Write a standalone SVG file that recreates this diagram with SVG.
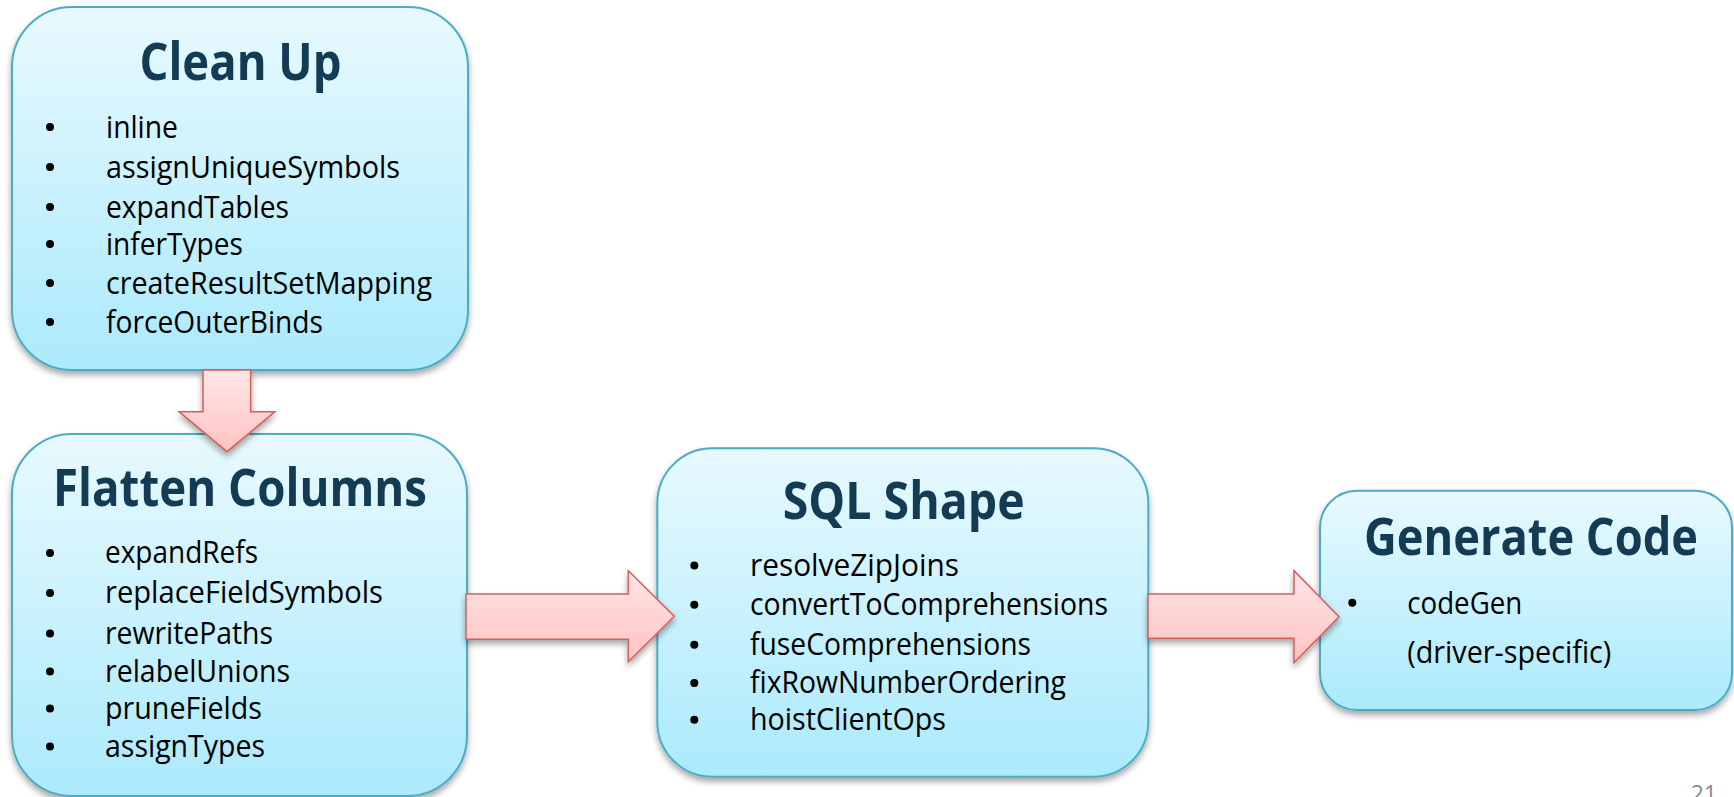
<svg xmlns="http://www.w3.org/2000/svg" width="1734" height="797" viewBox="0 0 1734 797">
<style>
.box{fill:url(#boxGrad);stroke:#4BACC6;stroke-width:2;filter:url(#shadow)}
.arrow{fill:url(#arrGrad);stroke:#D4605A;stroke-width:1.5;stroke-linejoin:miter;filter:url(#shadow)}
.title{font-family:"Open Sans","Liberation Sans",sans-serif;font-weight:700;font-size:52px;fill:#133B53}
.item{font-family:"Open Sans","Liberation Sans",sans-serif;font-size:31px;fill:#000}
.bullet{fill:#000}
.page{font-family:"Open Sans","Liberation Sans",sans-serif;font-size:23px;fill:#8C8C8C}
</style>
<defs>
<linearGradient id="boxGrad" x1="0" y1="0" x2="0" y2="1">
<stop offset="0" stop-color="#E8F9FE"/>
<stop offset="1" stop-color="#ABEAFC"/>
</linearGradient>
<linearGradient id="arrGrad" x1="0" y1="0" x2="0" y2="1">
<stop offset="0" stop-color="#FFE6E6"/>
<stop offset="1" stop-color="#FFC2C2"/>
</linearGradient>
<filter id="shadow" x="-10%" y="-10%" width="120%" height="130%">
<feDropShadow dx="0" dy="4" stdDeviation="3" flood-color="#000" flood-opacity="0.35"/>
</filter>
</defs>
<rect width="1734" height="797" fill="#fff"/>

<g id="node-cleanup">
<rect class="box" x="12" y="7" width="456" height="363" rx="60" ry="60"/>
<text class="title" x="139.5" y="80" textLength="202" lengthAdjust="spacingAndGlyphs">Clean Up</text>
<circle class="bullet" cx="50" cy="127" r="4"/>
<text class="item" x="106" y="137.5" textLength="72" lengthAdjust="spacingAndGlyphs">inline</text>
<circle class="bullet" cx="50" cy="167" r="4"/>
<text class="item" x="106" y="177.5" textLength="294" lengthAdjust="spacingAndGlyphs">assignUniqueSymbols</text>
<circle class="bullet" cx="50" cy="207" r="4"/>
<text class="item" x="106" y="217.5" textLength="183" lengthAdjust="spacingAndGlyphs">expandTables</text>
<circle class="bullet" cx="50" cy="244" r="4"/>
<text class="item" x="106" y="254.5" textLength="137" lengthAdjust="spacingAndGlyphs">inferTypes</text>
<circle class="bullet" cx="50" cy="283" r="4"/>
<text class="item" x="106" y="293.5" textLength="326" lengthAdjust="spacingAndGlyphs">createResultSetMapping</text>
<circle class="bullet" cx="50" cy="322" r="4"/>
<text class="item" x="106" y="332.5" textLength="217" lengthAdjust="spacingAndGlyphs">forceOuterBinds</text>
</g>

<g id="node-flatten">
<rect class="box" x="12" y="434" width="455" height="362" rx="60" ry="60"/>
<text class="title" x="53" y="505.7" textLength="374" lengthAdjust="spacingAndGlyphs">Flatten Columns</text>
<circle class="bullet" cx="50" cy="553" r="4"/>
<text class="item" x="105" y="563.3" textLength="153" lengthAdjust="spacingAndGlyphs">expandRefs</text>
<circle class="bullet" cx="50" cy="593" r="4"/>
<text class="item" x="105" y="603.3" textLength="278" lengthAdjust="spacingAndGlyphs">replaceFieldSymbols</text>
<circle class="bullet" cx="50" cy="633.5" r="4"/>
<text class="item" x="105" y="644" textLength="168" lengthAdjust="spacingAndGlyphs">rewritePaths</text>
<circle class="bullet" cx="50" cy="671.5" r="4"/>
<text class="item" x="105" y="681.7" textLength="185" lengthAdjust="spacingAndGlyphs">relabelUnions</text>
<circle class="bullet" cx="50" cy="708.5" r="4"/>
<text class="item" x="105" y="719" textLength="157" lengthAdjust="spacingAndGlyphs">pruneFields</text>
<circle class="bullet" cx="50" cy="746.5" r="4"/>
<text class="item" x="105" y="757" textLength="160" lengthAdjust="spacingAndGlyphs">assignTypes</text>
</g>

<g id="node-sqlshape">
<rect class="box" x="657.3" y="448.3" width="491" height="328.4" rx="55" ry="55"/>
<text class="title" x="782.7" y="519.3" textLength="242" lengthAdjust="spacingAndGlyphs">SQL Shape</text>
<circle class="bullet" cx="694.3" cy="565.5" r="4"/>
<text class="item" x="750" y="575.7" textLength="209" lengthAdjust="spacingAndGlyphs">resolveZipJoins</text>
<circle class="bullet" cx="694.3" cy="604.8" r="4"/>
<text class="item" x="750" y="615" textLength="358" lengthAdjust="spacingAndGlyphs">convertToComprehensions</text>
<circle class="bullet" cx="694.3" cy="644.8" r="4"/>
<text class="item" x="750" y="655" textLength="281" lengthAdjust="spacingAndGlyphs">fuseComprehensions</text>
<circle class="bullet" cx="694.3" cy="683" r="4"/>
<text class="item" x="750" y="693.3" textLength="316" lengthAdjust="spacingAndGlyphs">fixRowNumberOrdering</text>
<circle class="bullet" cx="694.3" cy="719.8" r="4"/>
<text class="item" x="750" y="730" textLength="196" lengthAdjust="spacingAndGlyphs">hoistClientOps</text>
</g>

<g id="node-generate">
<rect class="box" x="1320" y="490.7" width="412" height="219.3" rx="37" ry="37"/>
<text class="title" x="1364" y="555" textLength="334" lengthAdjust="spacingAndGlyphs">Generate Code</text>
<circle class="bullet" cx="1352.3" cy="602.7" r="4"/>
<text class="item" x="1407.3" y="614" textLength="115" lengthAdjust="spacingAndGlyphs">codeGen</text>
<text class="item" x="1407.3" y="663.3" textLength="204" lengthAdjust="spacingAndGlyphs">(driver-specific)</text>
</g>

<g id="connectors">
<polygon class="arrow" points="203,370 250.7,370 250.7,411.7 275,411.7 227,451.7 179,411.7 203,411.7"/>
<polygon class="arrow" points="466,594 628.3,594 628.3,570.7 674.3,616.3 628.3,661.7 628.3,639.3 466,639.3"/>
<polygon class="arrow" points="1148,594 1294,594 1294,570.7 1339,616.7 1294,662.7 1294,638.3 1148,638.3"/>
</g>

<text class="page" x="1690.7" y="801.5">21</text>
</svg>
